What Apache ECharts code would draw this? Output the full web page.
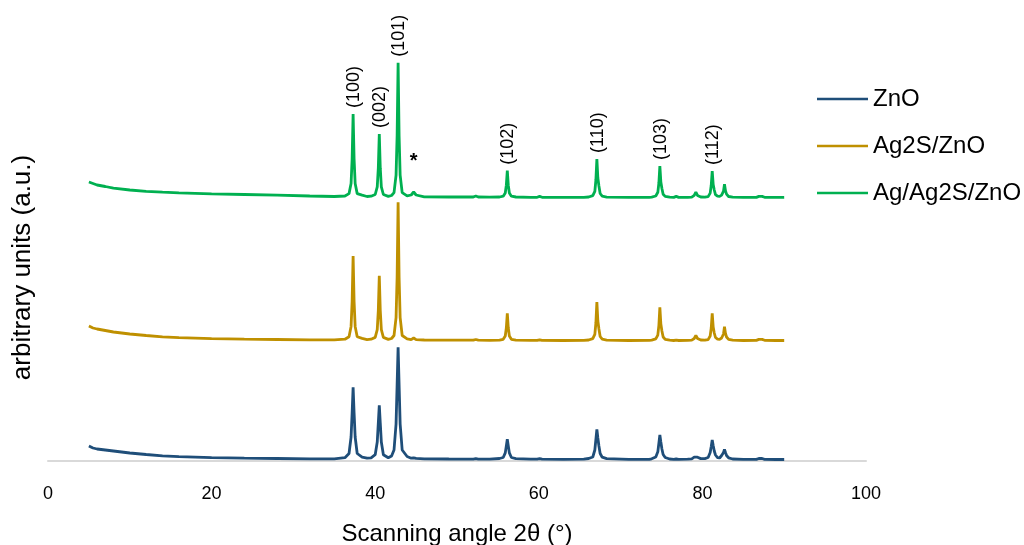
<!DOCTYPE html>
<html><head><meta charset="utf-8">
<script src="https://cdn.jsdelivr.net/npm/echarts@6/dist/echarts.min.js"></script>
<style>html,body{margin:0;padding:0;background:#fff}#c{width:1024px;height:545px}</style>
</head><body><div id="c"></div>
<script>
const seriesNames = ['ZnO', 'Ag2S/ZnO', 'Ag/Ag2S/ZnO'];
const seriesColors = ['#1f4e79', '#bf9000', '#00b050'];
const offsets = [0, 119, 262];

const angles = [
  5, 5.5, 6, 7, 8, 10, 12, 14, 16, 20, 24, 28, 32, 35,
  36.3, 36.8, 37.05, 37.18, 37.3, 37.42, 37.55, 37.8, 38.4, 39.0,
  39.5, 40.0, 40.25, 40.38, 40.5, 40.62, 40.75, 41.0, 41.6,
  42.0, 42.3, 42.55, 42.68, 42.8, 42.92, 43.05, 43.3, 43.9,
  44.4, 44.7, 45.0, 46, 49,
  52.0, 52.3, 52.6, 54,
  55.2, 55.65, 55.9, 56.03, 56.15, 56.27, 56.4, 56.65, 57.2, 59,
  59.8, 60.1, 60.4, 63, 65.5,
  66.1, 66.6, 66.85, 66.98, 67.1, 67.22, 67.35, 67.5, 67.75, 68.3, 71, 73.5,
  73.8, 74.3, 74.55, 74.68, 74.8, 74.92, 75.05, 75.2, 75.45, 76.0,
  76.5, 76.8, 77.1, 78.2,
  78.7, 79.0, 79.2, 79.4, 79.8, 80.3,
  80.7, 80.95, 81.08, 81.2, 81.32, 81.45, 81.6, 81.85, 82.1,
  82.35, 82.58, 82.7, 82.82, 82.95, 83.2, 83.7, 85,
  86.6, 86.9, 87.1, 87.3, 87.6, 89, 90
];

const znoValues = [
  15, 13, 12, 11, 10, 8, 6.5, 5.2, 4.3, 3.4, 2.8, 2.5, 2.2, 2.1,
  3.3, 7.5, 24, 48, 73.7, 48, 24, 7.5, 3.8, 2.8,
  3.2, 6.3, 19, 37.8, 55.7, 37.8, 19, 6.3, 3.2,
  5, 11, 37, 76.5, 113.7, 76.5, 37, 11, 4.5,
  2.8, 3.2, 2.6, 2.2, 2.0,
  1.9, 2.4, 1.9, 1.9,
  2.5, 3.5, 8.1, 15.1, 21.7, 15.1, 8.1, 3.5, 2.4, 1.8,
  1.8, 2.3, 1.8, 1.7, 1.8,
  2.5, 4.0, 11.0, 21.6, 31.6, 23, 15, 7.5, 3.8, 2.3, 1.6, 1.7,
  2.2, 4.0, 9.2, 17.8, 26, 19, 12, 6.5, 3.5, 2.0,
  1.6, 2.0, 1.6, 1.8,
  2.2, 3.8, 5.7, 3.8, 2.4, 2.4,
  3.5, 8.5, 14.5, 21, 15.5, 10, 6.0, 3.4, 3.0,
  5.5, 8.5, 11.7, 8.5, 5.5, 3.2, 2.0, 1.6,
  1.6, 2.5, 3.3, 2.5, 1.7, 1.5, 1.5
];

const ag2sZnoValues = [
  16, 14, 13, 11.5, 10, 8, 6.5, 5.2, 4.4, 3.4, 2.8, 2.5, 2.2, 2.1,
  2.8, 5.3, 15.6, 40.4, 86, 40.4, 15.6, 5.3, 3.6, 2.4,
  2.8, 4.6, 12.4, 31.4, 66.3, 31.4, 12.4, 4.6, 2.6,
  3.5, 6.5, 24.3, 65, 139.7, 65, 24.3, 6.5, 3.2,
  2.4, 4.0, 2.4, 2.0, 1.9,
  1.8, 2.5, 1.8, 1.7,
  1.9, 2.7, 6.0, 14, 28.7, 14, 6.0, 2.7, 1.9, 1.6,
  1.6, 2.2, 1.6, 1.5, 1.6,
  2.0, 3.3, 7.7, 19, 40, 21, 13, 5.5, 2.8, 1.9, 1.5, 1.6,
  1.9, 3.1, 6.9, 16.7, 34.7, 18, 11, 5, 2.6, 1.8,
  1.5, 1.9, 1.5, 1.6,
  1.9, 3.5, 6.7, 3.5, 2.0, 1.8,
  2.4, 6.0, 14, 28.7, 15, 9, 4.5, 2.8, 2.6,
  4.0, 8, 15.3, 8.5, 5, 2.6, 1.8, 1.5,
  1.6, 2.6, 3.7, 2.6, 1.7, 1.5, 1.5
];

const agAg2sZnoValues = [
  17, 15.5, 14, 12.5, 10.8, 9, 7.6, 6.8, 6.2, 5.2, 4.5, 3.8, 3.0, 2.5,
  3.0, 5.4, 15.5, 40, 85, 40, 15.5, 5.4, 3.8, 2.5,
  2.8, 4.5, 12.2, 30.8, 65, 30.8, 12.2, 4.5, 2.6,
  3.5, 6.4, 23.8, 63.4, 136.3, 63.4, 23.8, 6.4, 3.2,
  4.0, 7.0, 4.0, 2.2, 2.0,
  2.0, 3.0, 2.0, 1.8,
  2.0, 2.8, 6.0, 13.8, 28.3, 13.8, 6.0, 2.8, 2.0, 1.7,
  1.7, 2.6, 1.7, 1.6, 1.7,
  2.0, 3.3, 7.7, 19, 40, 21, 13, 5.5, 2.8, 1.9, 1.6, 1.7,
  1.9, 3.0, 6.7, 16, 33, 17, 10.5, 4.8, 2.6, 1.8,
  1.6, 2.6, 1.6, 1.7,
  1.9, 3.6, 7.0, 3.6, 2.0, 1.8,
  2.4, 5.9, 13.7, 28, 14.5, 9, 4.4, 2.8, 2.6,
  3.9, 7.8, 14.7, 8.2, 4.9, 2.5, 1.8, 1.6,
  1.6, 2.6, 3.7, 2.6, 1.7, 1.6, 1.7
];

const xTicks = [0, 20, 40, 60, 80, 100];
const peakLabels = ['(100)', '(002)', '(101)', '(102)', '(110)', '(103)', '(112)'];
const peakAngles = [37.3, 40.5, 42.8, 56.15, 67.1, 74.8, 81.2];
const starLabel = '*';
const starAngle = 44.7;

const allValues = [znoValues, ag2sZnoValues, agAg2sZnoValues];
const FONT = "'Liberation Sans', Arial, Helvetica, sans-serif";

const chart = echarts.init(document.getElementById('c'));
chart.setOption({
  animation: false,
  backgroundColor: '#fff',
  textStyle: { fontFamily: FONT, color: '#000' },
  grid: { left: 48, right: 158, top: 74, bottom: 84, containLabel: false, outerBoundsMode: 'none' },
  legend: {
    orient: 'vertical', left: 817, top: 87, padding: 0,
    itemWidth: 51, itemHeight: 2.5, itemGap: 23, icon: 'rect',
    textStyle: { fontSize: 24, lineHeight: 24, color: '#000', fontFamily: FONT },
    data: seriesNames
  },
  xAxis: {
    type: 'value', min: xTicks[0], max: xTicks[xTicks.length - 1], interval: 20,
    axisLine: { show: true, lineStyle: { color: '#d9d9d9', width: 2 } },
    axisTick: { show: false }, splitLine: { show: false },
    axisLabel: { fontSize: 18, color: '#000', margin: 24, fontFamily: FONT },
    name: 'Scanning angle 2θ (°)', nameLocation: 'middle', nameGap: 61,
    nameTextStyle: { fontSize: 24, color: '#000', fontFamily: FONT }
  },
  yAxis: {
    type: 'value', min: 0, max: 387,
    axisLine: { show: false }, axisTick: { show: false },
    axisLabel: { show: false }, splitLine: { show: false },
    name: 'arbitrary units (a.u.)', nameLocation: 'middle', nameGap: 12,
    nameTextStyle: { fontSize: 26, color: '#000', fontFamily: FONT }
  },
  series: seriesNames.map((n, s) => ({
    name: n, type: 'line', symbol: 'none', showSymbol: false, clip: false,
    color: seriesColors[s],
    lineStyle: { width: 2.8, color: seriesColors[s] },
    data: angles.map((a, i) => [a, allValues[s][i] + offsets[s]])
  }))
});

function greenAt(angle) {
  const i = angles.indexOf(angle);
  return agAg2sZnoValues[i] + offsets[2];
}
const graphics = peakLabels.map((t, k) => {
  const p = chart.convertToPixel({ xAxisIndex: 0, yAxisIndex: 0 }, [peakAngles[k], greenAt(peakAngles[k])]);
  return {
    type: 'text', x: p[0] + 1, y: p[1] - 6, rotation: Math.PI / 2,
    style: { text: t, fontSize: 18, fontFamily: FONT, fill: '#000', align: 'left', verticalAlign: 'middle' }
  };
});
const sp = chart.convertToPixel({ xAxisIndex: 0, yAxisIndex: 0 }, [starAngle, greenAt(starAngle)]);
graphics.push({
  type: 'text', x: sp[0], y: sp[1] - 31,
  style: { text: starLabel, fontSize: 20, fontWeight: 'bold', fontFamily: FONT, fill: '#000', align: 'center', verticalAlign: 'middle' }
});
chart.setOption({ graphic: graphics });
</script>
</body></html>
